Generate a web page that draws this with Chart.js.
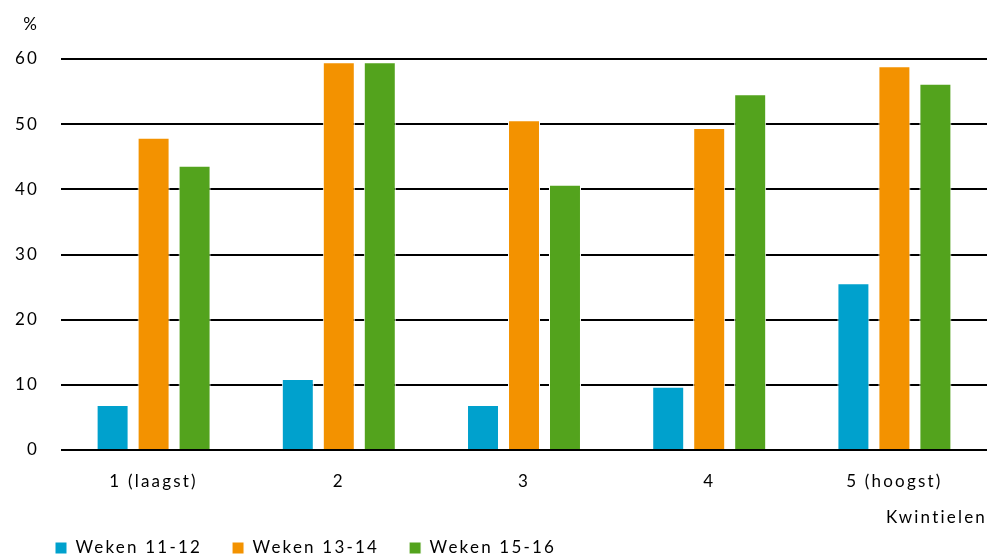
<!DOCTYPE html>
<html>
<head>
<meta charset="utf-8">
<script src="https://cdn.jsdelivr.net/npm/chart.js@4/dist/chart.umd.min.js"></script>
<style>
  html, body { margin: 0; padding: 0; background: #ffffff; }
  #wrap { width: 987px; height: 558px; position: relative; }
</style>
</head>
<body>
<div id="wrap"><canvas id="chart"></canvas></div>
<script>
const categories = ['1 (laagst)', '2', '3', '4', '5 (hoogst)'];
const seriesNames = ['Weken 11-12', 'Weken 13-14', 'Weken 15-16'];
const weken11_12 = [6.9, 10.9, 6.9, 9.7, 25.6];
const weken13_14 = [47.9, 59.5, 50.6, 49.4, 58.9];
const weken15_16 = [43.6, 59.5, 40.7, 54.6, 56.2];
const seriesColors = ['#00a1cd', '#f39200', '#53a31d'];
const yTicks = [0, 10, 20, 30, 40, 50, 60];

const FONT = 'Lato, "Open Sans", sans-serif';
const FONT_SIZE = 17;
const LETTER_SPACING = '2.2px';
const LEGEND_INDENT = 25;

// Slightly spaced lettering for all canvas text
const spacedText = {
  id: 'spacedText',
  beforeUpdate(chart) { chart.ctx.letterSpacing = LETTER_SPACING; },
  beforeLayout(chart) { chart.ctx.letterSpacing = LETTER_SPACING; },
  beforeDraw(chart) { chart.ctx.letterSpacing = LETTER_SPACING; }
};

// Indents the legend row so it starts under the value axis labels
const legendIndent = {
  id: 'legendIndent',
  afterLayout(chart) {
    if (chart.legend) {
      chart.legend.left += LEGEND_INDENT;
      chart.legend.right += LEGEND_INDENT;
    }
  }
};

// Draws the "%" unit label above the value axis
const unitLabel = {
  id: 'unitLabel',
  afterDraw(chart) {
    const ctx = chart.ctx;
    const y = chart.scales.y;
    ctx.save();
    ctx.font = FONT_SIZE + 'px ' + FONT;
    ctx.fillStyle = '#000';
    ctx.textAlign = 'right';
    ctx.textBaseline = 'middle';
    ctx.fillText('%', y.right - 22, y.getPixelForValue(60) - 34);
    ctx.restore();
  }
};

const seriesData = [weken11_12, weken13_14, weken15_16];

new Chart(document.getElementById('chart'), {
  type: 'bar',
  data: {
    labels: categories,
    datasets: seriesNames.map((name, i) => ({
      label: name,
      data: seriesData[i],
      backgroundColor: seriesColors[i],
      borderColor: '#ffffff',
      borderWidth: 1,
      barPercentage: 0.78,
      categoryPercentage: 0.664
    }))
  },
  options: {
    responsive: true,
    maintainAspectRatio: false,
    animation: false,
    devicePixelRatio: 1,
    layout: { padding: { top: 59, left: 0, right: 0, bottom: -8.5 } },
    plugins: {
      tooltip: { enabled: false },
      legend: {
        position: 'bottom',
        align: 'start',
        labels: {
          font: { family: FONT, size: FONT_SIZE },
          color: '#000',
          boxWidth: 12,
          boxHeight: 12,
          padding: 30
        }
      }
    },
    scales: {
      x: {
        grid: { display: false, drawTicks: false },
        border: { display: false },
        ticks: { font: { family: FONT, size: FONT_SIZE }, color: '#000', padding: 21 },
        title: {
          display: true,
          text: 'Kwintielen',
          align: 'end',
          color: '#000',
          font: { family: FONT, size: FONT_SIZE },
          padding: { top: -4.6, bottom: -18.7 }
        }
      },
      y: {
        min: 0,
        max: 60,
        afterBuildTicks(scale) { scale.ticks = yTicks.map(v => ({ value: v })); },
        afterFit(scale) { scale.width = 61; },
        grid: { color: '#000', lineWidth: 2, drawTicks: false },
        border: { display: false },
        ticks: { font: { family: FONT, size: FONT_SIZE }, color: '#000', padding: 22 }
      }
    }
  },
  plugins: [spacedText, legendIndent, unitLabel]
});
</script>
</body>
</html>
